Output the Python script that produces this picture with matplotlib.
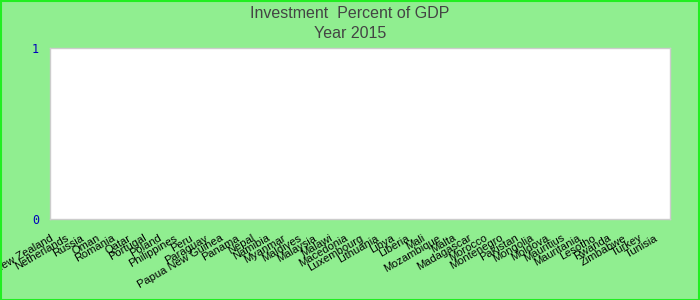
import matplotlib
matplotlib.use("Agg")
import matplotlib.pyplot as plt
from matplotlib.patches import Rectangle
import numpy as np

title_lines = ["Investment  Percent of GDP", "Year 2015"]
countries = ["New Zealand", "Netherlands", "Russia", "Oman", "Romania", "Qatar",
             "Portugal", "Poland", "Philippines", "Peru", "Paraguay",
             "Papua New Guinea", "Panama", "Nepal", "Namibia", "Myanmar",
             "Maldives", "Malaysia", "Malawi", "Macedonia", "Luxembourg",
             "Lithuania", "Libya", "Liberia", "Mali", "Mozambique", "Malta",
             "Madagascar", "Morocco", "Montenegro", "Pakistan", "Mongolia",
             "Moldova", "Mauritius", "Mauritania", "Lesotho", "Rwanda",
             "Zimbabwe", "Turkey", "Tunisia"]
values = [0] * len(countries)
y_ticks = [0, 1]

fig = plt.figure(figsize=(7, 3), dpi=100)
fig.patch.set_facecolor("#90EE90")
ax = fig.add_axes([50/700, (300-219)/300, 620/700, 171/300])
ax.set_facecolor("white")

x = np.arange(len(countries))
ax.bar(x, values, width=0.6, color="#3366cc", align="edge")
ax.set_xlim(0, len(countries))
ax.set_ylim(0, 1)
ax.set_yticks(y_ticks)
ax.set_yticklabels([str(v) for v in y_ticks], color="#0000bb",
                   family="DejaVu Sans Mono", fontsize=8.5)
ax.tick_params(axis="y", length=0, pad=8)
ax.set_xticks(x)
ax.set_xticklabels(countries, rotation=30, ha="right", va="top",
                   rotation_mode="anchor", family="Liberation Sans",
                   fontsize=8, color="black")
ax.tick_params(axis="x", length=0, pad=10)
for s in ax.spines.values():
    s.set_color("#cccccc")
    s.set_linewidth(1)

fig.text(0.5, 1 - 13/300, title_lines[0], ha="center", va="center",
         fontsize=11.5, color="#444444", family="Liberation Sans")
fig.text(0.5, 1 - 33/300, title_lines[1], ha="center", va="center",
         fontsize=11.5, color="#444444", family="Liberation Sans")

fig.patches.append(Rectangle((0.5/700, 0.5/300), 1 - 1.5/700, 1 - 1.5/300,
                             transform=fig.transFigure, fill=False,
                             edgecolor="#22ee22", linewidth=1.5))
fig.savefig("out.png", dpi=100, facecolor=fig.get_facecolor())
